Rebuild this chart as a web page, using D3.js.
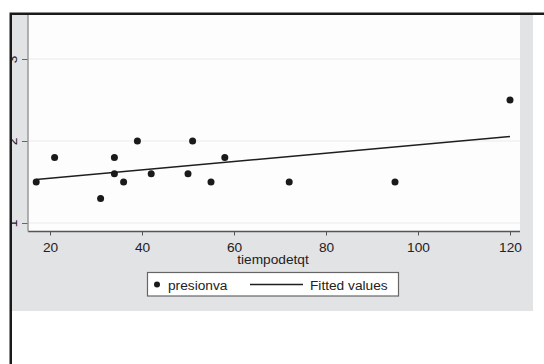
<!DOCTYPE html>
<html>
<head>
<meta charset="utf-8">
<script src="https://cdn.jsdelivr.net/npm/d3@7"></script>
<style>
  body { margin: 0; background: #fff; }
  text { font-family: "Liberation Sans", Arial, sans-serif; }
</style>
</head>
<body>
<div id="chart"></div>
<script>
// data
const tiempodetqt = [17, 21, 31, 34, 34, 36, 39, 42, 50, 51, 55, 58, 72, 95, 120];
const presionva   = [1.5, 1.8, 1.3, 1.8, 1.6, 1.5, 2.0, 1.6, 1.6, 2.0, 1.5, 1.8, 1.5, 1.5, 2.5];
const xTicks = [20, 40, 60, 80, 100, 120];
const yTicks = [1, 2, 3];
const legendLabels = ["presionva", "Fitted values"];

const width = 544, height = 364;
// plot area bounds
const plot = {left: 28, right: 520, top: 15, bottom: 231.5};

const svg = d3.select('#chart').append('svg')
    .attr('width', width)
    .attr('height', height);

// graph region (grey) and plot region (white)
svg.append('rect')
    .attr('x', 12).attr('y', 15)
    .attr('width', 521).attr('height', 296)
    .attr('fill', '#e2e3e5');
svg.append('rect')
    .attr('x', plot.left).attr('y', plot.top)
    .attr('width', plot.right - plot.left).attr('height', plot.bottom - plot.top)
    .attr('fill', '#fdfdfd');

// scales
let x = d3.scaleLinear([0, 120], [-42, 510]);
let y = d3.scaleLinear([1, 3], [223, 59]);

// gridlines
svg.append('g').selectAll('line')
    .data(yTicks)
    .join('line')
    .attr('x1', plot.left).attr('x2', plot.right)
    .attr('y1', d => y(d)).attr('y2', d => y(d))
    .attr('stroke', '#ebebeb')
    .attr('stroke-width', 1.2);

// x axis
let axisX = svg.append('g')
    .attr('transform', `translate(0,${plot.bottom})`)
    .call(d3.axisBottom(x).tickValues(xTicks).tickSize(4).tickPadding(7).tickSizeOuter(0));
axisX.select('.domain').remove();
axisX.append('line')
    .attr('x1', plot.left).attr('x2', plot.right)
    .attr('stroke', '#555').attr('stroke-width', 1.3);
axisX.selectAll('.tick line').attr('stroke', '#555');
axisX.selectAll('text')
    .attr('fill', '#222')
    .style('font-size', '13.7px');

svg.append('text')
    .attr('x', 273).attr('y', 264)
    .attr('text-anchor', 'middle')
    .attr('fill', '#222')
    .style('font-size', '13.7px')
    .text('tiempodetqt');

// y axis (labels are vertical, like Stata)
let axisY = svg.append('g')
    .attr('transform', `translate(${plot.left},0)`)
    .call(d3.axisLeft(y).tickValues(yTicks).tickFormat(d3.format('d')).tickSize(6).tickSizeOuter(0));
axisY.select('.domain').remove();
axisY.append('line')
    .attr('y1', plot.top).attr('y2', plot.bottom)
    .attr('stroke', '#999').attr('stroke-width', 1.5);
axisY.selectAll('.tick line').attr('stroke', '#666');
axisY.selectAll('text')
    .attr('x', 0).attr('dy', 0)
    .attr('text-anchor', 'middle')
    .attr('transform', 'translate(-11,0) rotate(-90)')
    .attr('fill', '#222')
    .style('font-size', '13.7px');

// fitted values (OLS of presionva on tiempodetqt)
const mx = d3.mean(tiempodetqt), my = d3.mean(presionva);
const sxy = d3.sum(tiempodetqt, (d, i) => (d - mx) * (presionva[i] - my));
const sxx = d3.sum(tiempodetqt, d => (d - mx) ** 2);
const slope = sxy / sxx, icept = my - slope * mx;
const fitX = d3.extent(tiempodetqt);

svg.append('path')
    .datum(fitX)
    .attr('d', d3.line().x(d => x(d)).y(d => y(icept + slope * d)))
    .attr('stroke', '#1e1e1e')
    .attr('stroke-width', 1.5)
    .attr('fill', 'none');

// points
svg.append('g').selectAll('circle')
    .data(tiempodetqt.map((d, i) => [d, presionva[i]]))
    .join('circle')
    .attr('cx', d => x(d[0]))
    .attr('cy', d => y(d[1]))
    .attr('r', 3.5)
    .attr('fill', '#1a1a1a');

// legend
let legend = svg.append('g');
legend.append('rect')
    .attr('x', 147.5).attr('y', 272.5)
    .attr('width', 251).attr('height', 23.5)
    .attr('fill', '#fff')
    .attr('stroke', '#666').attr('stroke-width', 1.2);
legend.append('circle')
    .attr('cx', 157).attr('cy', 284.5).attr('r', 3)
    .attr('fill', '#1a1a1a');
legend.append('text')
    .attr('x', 168).attr('y', 289.5)
    .style('font-size', '13.7px').attr('fill', '#222')
    .text(legendLabels[0]);
legend.append('line')
    .attr('x1', 250).attr('x2', 303)
    .attr('y1', 284.5).attr('y2', 284.5)
    .attr('stroke', '#1e1e1e').attr('stroke-width', 1.5);
legend.append('text')
    .attr('x', 310).attr('y', 289.5)
    .style('font-size', '13.7px').attr('fill', '#222')
    .text(legendLabels[1]);

// outer frame, hiding whatever sits left of it
svg.append('rect')
    .attr('x', 0).attr('y', 0).attr('width', 10).attr('height', height)
    .attr('fill', '#fff');
svg.append('path')
    .attr('d', `M10.75,${height} V13.75 H${width}`)
    .attr('stroke', '#1a1a1a')
    .attr('stroke-width', 2.5)
    .attr('fill', 'none');
</script>
</body>
</html>
